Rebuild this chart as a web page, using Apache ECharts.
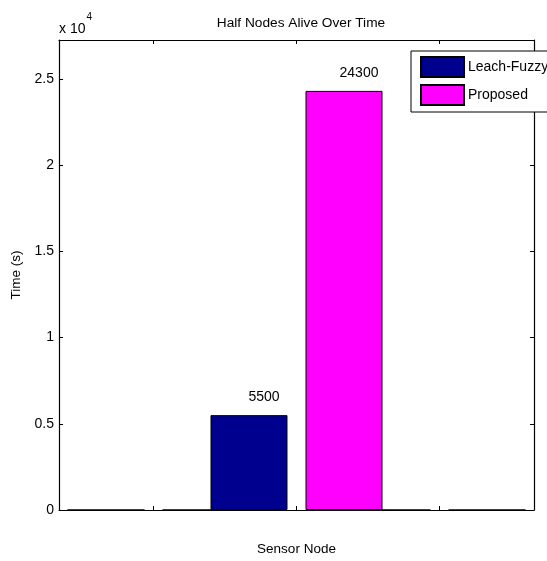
<!DOCTYPE html>
<html>
<head>
<meta charset="utf-8">
<script src="https://cdn.jsdelivr.net/npm/echarts@6/dist/echarts.min.js"></script>
<style>html,body{margin:0;padding:0;background:#fff}#c{width:547px;height:561px}</style>
</head>
<body>
<div id="c"></div>
<script>
const groups = [1, 2, 3];
const leachFuzzy = [0, 5500, 0];
const proposed = [0, 24300, 0];
const seriesNames = ['Leach-Fuzzy', 'Proposed'];
const yTickValues = [0, 5000, 10000, 15000, 20000, 25000];

const FONT = 'Liberation Sans, Arial, sans-serif';
const chart = echarts.init(document.getElementById('c'), null, {renderer: 'canvas'});
const pairs = arr => groups.map((g, i) => [g, arr[i]]);
const labelCfg = {
  show: true, position: 'top', distance: 11, offset: [15, 0],
  fontFamily: FONT, fontSize: 14, color: '#000',
  formatter: p => (p.value[1] ? String(p.value[1]) : '')
};
chart.setOption({
  animation: false,
  backgroundColor: '#fff',
  textStyle: {fontFamily: FONT},
  title: {
    text: 'Half Nodes Alive Over Time', left: 296, top: 11, textAlign: 'center',
    textStyle: {fontFamily: FONT, fontSize: 13.7, fontWeight: 'normal', color: '#000'}
  },
  graphic: [{
    type: 'text', left: 59, top: 12,
    style: {
      text: '{a|x 10}{b|4}', fill: '#000',
      rich: {
        a: {fontFamily: FONT, fontSize: 14, fill: '#000', verticalAlign: 'bottom', lineHeight: 24},
        b: {fontFamily: FONT, fontSize: 10, fill: '#000', verticalAlign: 'top', lineHeight: 24, padding: [0, 0, 10, 1]}
      }
    }
  }],
  legend: {
    data: seriesNames,
    left: 411, top: 51,
    orient: 'vertical',
    itemWidth: 43, itemHeight: 20, itemGap: 6,
    padding: [5, 10, 6, 9],
    backgroundColor: '#fff', borderColor: '#000', borderWidth: 1,
    textStyle: {fontFamily: FONT, fontSize: 14, color: '#000', padding: [0, 0, 0, -1]},
    icon: 'rect'
  },
  grid: {left: 59, right: 13, top: 40, bottom: 48, containLabel: false},
  xAxis: [{
    type: 'value', min: 0.339, max: 3.661,
    name: 'Sensor Node', nameLocation: 'middle', nameGap: 32,
    nameTextStyle: {fontFamily: FONT, fontSize: 13.5, color: '#000'},
    axisLine: {show: true, onZero: false, lineStyle: {color: '#000', width: 1.2}},
    axisTick: {show: true, inside: true, length: 4, customValues: groups, lineStyle: {color: '#000'}},
    axisLabel: {show: false},
    splitLine: {show: false}
  }, {
    type: 'value', min: 0.339, max: 3.661, position: 'top',
    axisLine: {show: true, onZero: false, lineStyle: {color: '#000', width: 1.2}},
    axisTick: {show: true, inside: true, length: 4, customValues: groups, lineStyle: {color: '#000'}},
    axisLabel: {show: false},
    splitLine: {show: false}
  }],
  yAxis: [{
    type: 'value', min: 0, max: 27250,
    name: 'Time (s)', nameLocation: 'middle', nameGap: 35, nameRotate: 90,
    nameTextStyle: {fontFamily: FONT, fontSize: 13.5, color: '#000'},
    axisLine: {show: true, onZero: false, lineStyle: {color: '#000', width: 1.2}},
    axisTick: {show: true, inside: true, length: 4, customValues: yTickValues, lineStyle: {color: '#000'}},
    axisLabel: {show: true, customValues: yTickValues, margin: 5, fontFamily: FONT, fontSize: 14, color: '#000',
      formatter: v => String(v / 10000)},
    splitLine: {show: false}
  }, {
    type: 'value', min: 0, max: 27250, position: 'right',
    axisLine: {show: true, onZero: false, lineStyle: {color: '#000', width: 1.2}},
    axisTick: {show: true, inside: true, length: 4, customValues: yTickValues, lineStyle: {color: '#000'}},
    axisLabel: {show: false},
    splitLine: {show: false}
  }],
  series: [{
    name: seriesNames[0], type: 'bar', xAxisIndex: 0, yAxisIndex: 0,
    data: pairs(leachFuzzy), barWidth: 77, barGap: '23.4%',
    itemStyle: {color: '#00008F', borderColor: '#000', borderWidth: 1},
    label: labelCfg
  }, {
    name: seriesNames[1], type: 'bar', xAxisIndex: 0, yAxisIndex: 0,
    data: pairs(proposed), barWidth: 77, barGap: '23.4%',
    itemStyle: {color: '#FF00FF', borderColor: '#000', borderWidth: 1},
    label: labelCfg
  }]
});
</script>
</body>
</html>
